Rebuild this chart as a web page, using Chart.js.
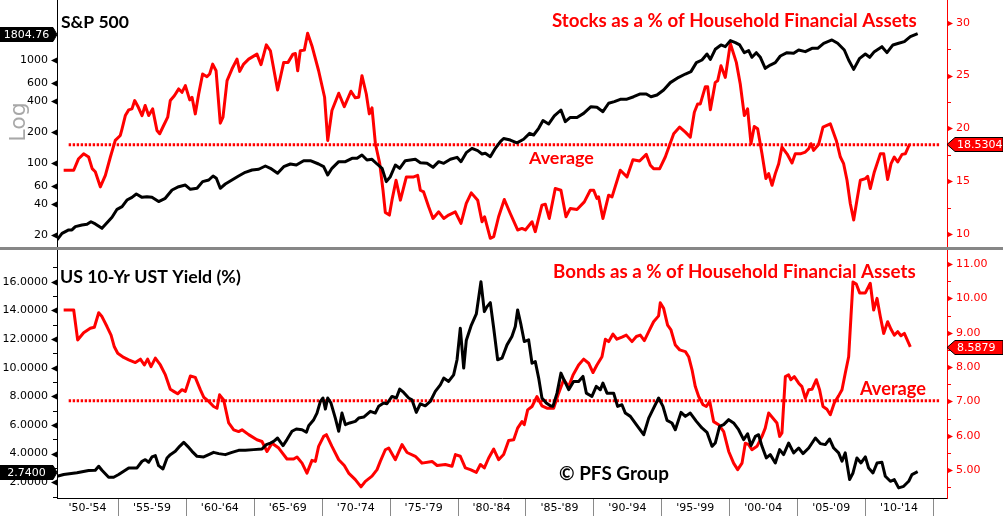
<!DOCTYPE html>
<html><head><meta charset="utf-8">
<script src="https://cdn.jsdelivr.net/npm/chart.js@4/dist/chart.umd.min.js"></script>
<style>
html,body{margin:0;padding:0;background:#fff;}
#wrap{position:relative;width:1003px;height:519px;overflow:hidden;background:#fff;}
#c1{position:absolute;left:0;top:0;width:1003px;height:247px;}
#c2{position:absolute;left:0;top:250px;width:1003px;height:269px;}
#sep{position:absolute;left:0;top:247px;width:1003px;height:3px;background:#878787;}
</style></head><body>
<div id="wrap">
<canvas id="c1" width="1003" height="247"></canvas>
<div id="sep"></div>
<canvas id="c2" width="1003" height="269"></canvas>
</div>
<script>
// ---------------- DATA ----------------
const periodStarts = [1950,1955,1960,1965,1970,1975,1980,1985,1990,1995,2000,2005,2010];
const periodLabels = ["'50-'54","'55-'59","'60-'64","'65-'69","'70-'74","'75-'79","'80-'84","'85-'89","'90-'94","'95-'99","'00-'04","'05-'09","'10-'14"];

const spxTicks = [20,40,60,100,200,400,600,1000];
const stockShareTicks = [10,15,20,25,30];
const stockShareMinor = [12.5,17.5,22.5,27.5];
const ustTicks = [2,4,6,8,10,12,14,16];
const ustMinor = [1,3,5,7,9,11,13,15,17];
const bondShareTicks = [5,6,7,8,9,10,11];
const bondShareMinor = [4.5,5.5,6.5,7.5,8.5,9.5,10.5];

const spxYears = [1950.51,1950.88,1951.37,1951.61,1951.86,1952.35,1952.72,1953.01,1953.33,1953.82,1954.19,1954.56,1954.93,1955.30,1955.66,1956.03,1956.35,1956.77,1957.13,1957.50,1957.99,1958.48,1958.98,1959.47,1959.96,1960.33,1960.82,1961.23,1961.68,1962.00,1962.24,1962.53,1962.90,1963.39,1963.88,1964.37,1964.87,1965.36,1965.85,1966.22,1966.75,1967.20,1967.69,1968.13,1968.67,1969.16,1969.77,1970.14,1970.44,1970.75,1971.25,1971.74,1972.23,1972.60,1972.96,1973.33,1973.70,1974.07,1974.44,1974.75,1975.05,1975.42,1975.74,1976.15,1976.89,1977.26,1977.75,1978.19,1978.61,1978.98,1979.47,1979.96,1980.25,1980.64,1981.06,1981.48,1981.80,1982.04,1982.41,1982.78,1983.15,1983.39,1983.88,1984.37,1984.86,1985.30,1985.60,1985.97,1986.29,1986.70,1987.12,1987.61,1987.93,1988.30,1988.79,1989.28,1989.82,1990.26,1990.70,1991.12,1991.54,1991.98,1992.42,1992.96,1993.45,1993.89,1994.24,1994.68,1995.17,1995.66,1996.28,1996.77,1997.18,1997.58,1997.99,1998.36,1998.61,1998.97,1999.39,1999.71,2000.08,2000.45,2000.77,2001.11,2001.43,2001.67,2001.99,2002.29,2002.65,2003.02,2003.39,2003.76,2004.25,2004.74,2005.11,2005.60,2006.09,2006.51,2006.95,2007.56,2007.98,2008.47,2008.79,2009.16,2009.60,2010.02,2010.34,2010.68,2011.24,2011.61,2012.05,2012.47,2012.89,2013.33,2013.87];
const spxValues = [17.9,20.7,22.4,22.4,24.1,25.0,25.4,26.9,25.6,23.2,26.3,29.7,35.5,37.7,43.7,46.4,50.0,46.4,47.1,46.4,42.2,45.4,54.7,58.9,61.1,55.5,56.8,65.9,68.4,74.8,71.0,56.8,62.5,68.4,74.8,81.2,85.5,86.9,93.5,88.8,79.4,92.1,97.8,95.6,105.3,105.3,97.8,92.1,76.5,88.8,103.0,103.0,111.0,111.0,119.6,106.9,108.6,97.8,88.8,65.9,73.6,95.6,88.8,105.3,108.6,100.7,99.3,90.7,103.0,99.3,108.6,113.5,103.0,126,138.8,131.8,122.3,124.1,115.1,138.8,161,173,167,157,170,194,187,217,258,239,286,327,252,277,277,303,352,347,315,380,394,415,415,440,468,468,440,457,512,603,679,731,771,943,1000,1144,1014,1270,1400,1347,1542,1473,1400,1178,1232,1062,1178,1062,830,893,943,1094,1178,1161,1250,1205,1298,1298,1452,1564,1452,1250,1000,811,1038,1144,1062,1205,1347,1178,1400,1452,1508,1686,1804.76];

const stockShareYears = [1951.0,1951.74,1952.1,1952.47,1952.84,1953.1,1953.33,1953.7,1954.07,1954.44,1954.8,1955.17,1955.3,1955.54,1955.79,1956.03,1956.23,1956.5,1956.77,1957.0,1957.26,1957.55,1957.87,1958.07,1958.36,1958.66,1958.85,1959.15,1959.47,1959.71,1959.96,1960.28,1960.45,1960.69,1960.94,1961.23,1961.55,1961.75,1961.97,1962.22,1962.53,1962.73,1963.03,1963.39,1963.76,1963.96,1964.25,1964.62,1965.23,1965.53,1965.92,1966.22,1966.75,1967.2,1967.52,1967.88,1968.06,1968.23,1968.42,1968.72,1968.96,1969.28,1969.77,1970.21,1970.44,1970.75,1971.25,1971.66,1972.15,1972.47,1972.72,1972.96,1973.28,1973.5,1973.7,1973.95,1974.27,1974.51,1974.68,1974.98,1975.17,1975.47,1975.79,1976.23,1976.77,1977.06,1977.26,1977.5,1977.87,1978.19,1978.61,1978.98,1979.34,1979.83,1980.25,1980.64,1981.01,1981.48,1981.8,1981.99,1982.41,1982.66,1983.02,1983.44,1983.88,1984.42,1984.74,1984.99,1985.48,1985.72,1986.21,1986.46,1986.75,1987.19,1987.61,1987.98,1988.3,1988.79,1989.33,1989.77,1990.02,1990.26,1990.38,1990.7,1991.12,1991.37,1991.98,1992.47,1992.91,1993.4,1993.89,1994.19,1994.43,1994.88,1995.29,1995.91,1996.35,1996.77,1997.13,1997.43,1997.67,1997.87,1998.24,1998.41,1998.61,1998.97,1999.15,1999.39,1999.71,2000.08,2000.52,2000.81,2001.11,2001.35,2001.6,2001.84,2002.09,2002.41,2002.7,2002.9,2003.15,2003.39,2003.64,2003.88,2004.25,2004.62,2004.86,2005.23,2005.6,2005.85,2006.02,2006.21,2006.58,2006.9,2007.44,2007.88,2008.18,2008.42,2008.67,2008.91,2009.16,2009.4,2009.65,2010.02,2010.19,2010.38,2010.68,2011.12,2011.37,2011.66,2011.91,2012.15,2012.4,2012.72,2012.96,2013.28];
const stockShareValues = [16.05,16.05,17.14,17.6,17.3,16.2,15.9,14.48,15.57,17.3,18.87,19.34,19.97,21.22,21.76,21.85,22.64,22.0,21.22,22.17,21.22,21.85,19.81,19.5,20.28,21.07,22.64,23.1,23.74,23.42,24.05,22.7,22.95,21.38,23.26,25.15,24.9,25.15,26.09,25.46,20.5,21.07,24.52,25.62,26.56,25.4,26.09,26.56,27.03,26.03,27.91,27.35,23.64,26.25,26.25,27.03,27.09,25.46,27.35,27.41,29.0,27.81,25.46,22.95,18.87,21.7,23.33,22.07,23.52,22.9,22.95,24.99,23.26,21.38,21.95,18.56,16.67,14.16,12.06,11.81,13.22,15.1,13.22,15.42,15.42,15.57,14.16,14.0,12.59,11.49,12.12,11.49,11.81,12.12,11.02,12.91,13.91,13.22,11.18,11.65,9.61,9.77,11.65,13.28,11.96,10.4,10.55,10.4,11.18,10.24,12.75,12.84,11.49,14.32,14.16,11.65,12.44,12.34,13.06,14.16,14.16,13.38,13.53,11.49,13.69,13.53,16.05,15.42,17.05,16.92,17.55,16.52,16.2,16.2,17.3,19.5,20.13,19.65,19.18,21.54,22.32,22.32,23.95,23.95,21.76,24.36,24.52,25.93,24.83,28.04,26.25,24.21,21.22,21.85,18.56,20.19,19.97,17.6,15.26,15.73,14.63,15.73,16.67,18.24,17.6,16.74,17.6,17.6,17.77,18.09,18.56,17.93,18.49,20.13,20.44,18.87,17.3,16.67,15.1,12.91,11.34,13.22,15.1,15.26,15.48,14.32,15.89,17.6,17.6,15.17,16.67,17.3,16.83,17.55,17.6,18.5304];
const stockShareAverage = 18.45;

const ustYears = [1950.51,1951.0,1951.98,1952.84,1953.33,1953.58,1953.82,1954.31,1954.68,1955.05,1955.79,1956.4,1956.77,1957.01,1957.26,1957.5,1957.75,1957.99,1958.31,1958.61,1958.85,1959.22,1959.54,1959.84,1960.13,1960.45,1960.82,1961.31,1961.68,1962.04,1962.41,1962.9,1963.39,1963.88,1964.37,1964.99,1965.6,1965.92,1966.22,1966.46,1966.75,1967.15,1967.44,1967.81,1968.13,1968.55,1968.87,1969.04,1969.41,1969.65,1969.9,1970.09,1970.27,1970.44,1970.68,1971.0,1971.25,1971.49,1971.74,1972.06,1972.47,1972.72,1973.09,1973.58,1973.94,1974.19,1974.56,1974.8,1975.17,1975.49,1975.74,1976.03,1976.4,1976.64,1976.96,1977.26,1977.62,1977.99,1978.36,1978.73,1978.98,1979.34,1979.71,1979.96,1980.2,1980.45,1980.64,1980.99,1981.38,1981.72,1981.97,1982.17,1982.41,1982.66,1982.95,1983.27,1983.64,1984.0,1984.25,1984.42,1984.67,1984.91,1985.23,1985.48,1985.72,1985.97,1986.21,1986.53,1986.83,1987.02,1987.32,1987.61,1987.81,1988.18,1988.54,1988.91,1989.23,1989.48,1989.89,1990.21,1990.51,1990.7,1991.0,1991.49,1991.78,1992.1,1992.35,1992.72,1993.16,1993.7,1994.07,1994.43,1994.8,1995.12,1995.42,1995.78,1996.03,1996.45,1996.77,1997.13,1997.58,1997.99,1998.36,1998.73,1998.97,1999.29,1999.59,1999.96,2000.32,2000.69,2001.06,2001.35,2001.6,2001.92,2002.16,2002.41,2002.73,2003.02,2003.39,2003.71,2004.0,2004.37,2004.74,2005.11,2005.43,2005.85,2006.34,2006.7,2007.07,2007.39,2007.69,2008.05,2008.3,2008.54,2008.86,2009.11,2009.4,2009.7,2010.02,2010.26,2010.58,2010.88,2011.24,2011.49,2011.86,2012.15,2012.47,2012.84,2013.21,2013.45,2013.87];
const ustValues = [2.42,2.54,2.66,2.82,2.84,3.12,2.84,2.35,2.35,2.54,3.0,3.0,3.47,3.58,3.40,3.77,3.86,3.16,2.93,3.70,3.93,4.16,4.51,4.79,4.51,4.16,3.81,3.77,3.93,4.09,4.00,3.93,4.09,4.23,4.23,4.28,4.32,4.63,4.74,4.86,5.09,4.56,4.98,5.56,5.72,5.67,5.49,5.95,6.37,6.83,7.65,7.88,7.11,7.88,7.53,6.48,5.56,6.83,6.02,6.14,6.25,6.48,6.55,6.95,6.83,7.30,7.53,7.48,7.99,7.88,8.50,8.27,7.88,7.76,6.88,7.48,7.34,7.64,8.34,8.80,9.27,9.04,9.50,10.55,12.75,9.97,11.89,12.91,13.75,16.0,13.91,14.26,14.54,12.75,10.55,10.66,11.59,12.17,12.87,14.03,12.98,11.82,11.94,10.31,10.43,9.27,7.88,7.53,7.34,7.30,8.22,9.62,9.20,8.46,9.04,9.04,9.39,8.22,7.99,8.69,8.46,8.92,8.22,8.22,7.30,7.41,6.83,6.60,6.02,5.32,6.48,7.18,7.88,7.30,6.32,6.14,5.67,6.88,6.60,6.83,6.25,5.79,5.49,4.51,4.74,5.90,6.02,6.37,6.14,5.67,4.98,5.39,4.56,5.21,5.32,4.51,3.70,3.93,3.35,4.28,3.93,4.74,4.05,4.39,4.00,4.39,5.09,4.70,4.63,5.02,4.39,4.05,3.47,4.05,2.19,2.65,3.70,3.35,3.77,3.00,2.65,3.35,3.40,2.42,2.07,2.19,1.61,1.72,2.07,2.54,2.74];

const bondShareYears = [1951.0,1951.74,1952.03,1952.47,1952.96,1953.26,1953.58,1953.82,1954.19,1954.49,1954.73,1954.98,1955.42,1955.79,1956.28,1956.65,1956.94,1957.18,1957.43,1957.75,1958.12,1958.49,1958.85,1959.1,1959.39,1959.71,1959.96,1960.33,1960.69,1961.06,1961.31,1961.68,1962.04,1962.29,1962.48,1962.78,1963.15,1963.52,1963.88,1964.13,1964.62,1965.23,1965.6,1965.97,1966.34,1966.83,1967.44,1967.93,1968.18,1968.55,1968.91,1969.28,1969.53,1969.77,1970.14,1970.34,1970.75,1971.25,1971.66,1971.98,1972.47,1972.89,1973.21,1973.7,1974.07,1974.31,1974.68,1974.93,1975.42,1975.91,1976.28,1976.89,1977.38,1978.12,1978.49,1979.1,1979.59,1979.84,1980.2,1980.57,1980.94,1981.38,1981.68,1981.97,1982.29,1982.66,1983.02,1983.39,1983.76,1984.13,1984.42,1984.74,1984.91,1985.16,1985.48,1985.84,1986.21,1986.58,1987.07,1987.44,1987.81,1988.18,1988.5,1988.91,1989.28,1989.65,1989.97,1990.26,1990.63,1990.88,1991.12,1991.44,1991.73,1992.1,1992.42,1992.84,1993.16,1993.45,1993.75,1994.07,1994.43,1994.8,1994.92,1995.17,1995.46,1995.71,1996.03,1996.35,1996.77,1997.01,1997.26,1997.5,1997.75,1998.07,1998.31,1998.56,1998.85,1999.22,1999.59,1999.96,2000.32,2000.62,2000.94,2001.18,2001.43,2001.67,2002.04,2002.41,2002.65,2002.9,2003.22,2003.51,2003.71,2003.88,2004.13,2004.37,2004.54,2004.79,2005.11,2005.35,2005.6,2005.85,2006.09,2006.41,2006.65,2006.9,2007.19,2007.44,2007.73,2008.05,2008.3,2008.54,2008.79,2008.96,2009.11,2009.35,2009.6,2010.02,2010.38,2010.63,2010.88,2011.12,2011.37,2011.66,2011.91,2012.15,2012.4,2012.64,2012.89,2013.33];
const bondShareValues = [9.66,9.66,8.79,9.0,9.13,9.16,9.58,9.47,9.18,8.93,8.59,8.40,8.28,8.21,8.13,8.23,8.06,8.23,8.01,8.26,8.06,7.77,7.35,7.29,7.22,7.34,7.29,7.74,7.70,7.34,7.12,7.00,6.85,6.80,7.19,7.04,6.37,6.17,6.12,6.17,6.03,5.88,5.83,5.54,5.78,5.64,5.32,5.32,5.38,5.20,4.91,5.28,5.25,5.69,5.98,6.03,5.69,5.30,5.13,4.91,4.72,4.51,4.67,4.82,5.01,5.25,5.59,5.64,5.30,5.74,5.51,5.40,5.20,5.25,5.13,5.16,5.11,5.45,5.40,5.06,5.01,4.93,5.16,5.06,5.35,5.61,5.30,5.45,5.86,5.88,6.22,6.41,6.32,6.75,6.85,7.14,6.87,6.80,6.80,7.24,7.63,7.43,7.77,8.06,8.23,8.11,7.84,8.06,8.30,8.81,8.74,8.96,8.81,8.87,8.93,8.74,8.89,8.93,8.77,9.03,9.32,9.49,9.87,9.71,9.22,9.08,8.64,8.50,8.45,8.30,7.92,7.43,7.14,6.90,6.85,7.00,6.41,6.32,6.12,5.54,5.20,5.01,5.20,5.78,5.74,5.59,5.69,5.98,6.22,6.66,6.51,6.37,5.98,6.08,7.72,7.77,7.63,7.72,7.53,7.43,7.09,7.34,7.35,7.63,7.34,6.85,6.77,6.61,6.95,7.16,7.34,7.82,8.30,9.47,10.48,10.42,10.16,10.16,10.44,9.66,10.00,9.47,8.98,9.32,9.10,8.93,9.03,8.91,8.98,8.5879];
const bondShareAverage = 7.02;
const averageSpan = [1951.37, 2015.5];

// ---------------- LAYOUT / STYLE ----------------
const X_MIN = 1950.51, X_MAX = 2016.03;
const RED = '#ff0000', BLACK = '#000000';
const TICK_FONT = {family:'DejaVu Sans', size:11};

const pts = (xs, ys) => xs.map((x,i)=>({x, y: ys[i]}));
const flat = (v) => averageSpan.map(x=>({x, y:v}));

function fitFont(ctx, text, target, weight, family){
  ctx.font = `${weight} 20px ${family}`;
  const w = ctx.measureText(text).width;
  return 20 * target / w;
}

function decor(cfg){
  return {
    id: 'decor',
    afterDraw(chart){
      const ctx = chart.ctx, ca = chart.chartArea;
      ctx.save();
      cfg.axes.forEach(a=>{
        const sc = chart.scales[a.id];
        const X = a.side==='left' ? ca.left : ca.right;
        const d = a.side==='left' ? -1 : 1;
        ctx.fillStyle = a.color; ctx.strokeStyle = a.color; ctx.lineWidth = 1;
        sc.ticks.forEach(t=>{
          const y = Math.round(sc.getPixelForValue(t.value)) + 0.5;
          ctx.beginPath(); ctx.moveTo(X, y-3); ctx.lineTo(X+d*6, y); ctx.lineTo(X, y+3); ctx.closePath(); ctx.fill();
        });
        (a.minor||[]).forEach(v=>{
          const y = Math.round(sc.getPixelForValue(v)) + 0.5;
          if (y < ca.top || y > ca.bottom) return;
          ctx.beginPath(); ctx.moveTo(X, y); ctx.lineTo(X+d*4, y); ctx.stroke();
        });
      });
      if (cfg.separators){
        const sx = chart.scales.x;
        ctx.strokeStyle = '#8a8a8a'; ctx.lineWidth = 1;
        cfg.separators.forEach(v=>{
          if (v <= X_MIN || v >= X_MAX) return;
          const x = Math.round(sx.getPixelForValue(v)) + 0.5;
          ctx.beginPath(); ctx.moveTo(x, ca.bottom+1); ctx.lineTo(x, ca.bottom+18); ctx.stroke();
        });
      }
      (cfg.texts||[]).forEach(t=>{
        const fam = t.family || 'Lato';
        const size = fitFont(ctx, t.text, t.w, t.weight||'bold', fam);
        ctx.font = `${t.weight||'bold'} ${size}px ${fam}`;
        ctx.fillStyle = t.color; ctx.textAlign = 'left'; ctx.textBaseline = 'alphabetic';
        ctx.fillText(t.text, t.x, t.y);
      });
      if (cfg.rot){
        const r = cfg.rot;
        ctx.save(); ctx.translate(r.x, r.y); ctx.rotate(-Math.PI/2);
        ctx.font = r.font; ctx.fillStyle = r.color; ctx.textAlign='center'; ctx.textBaseline='middle';
        ctx.fillText(r.text, 0, 0); ctx.restore();
      }
      (cfg.callouts||[]).forEach(c=>{
        const sc = chart.scales[c.axis];
        const y = Math.round(sc.getPixelForValue(c.value)) + 0.5;
        const h = 7;
        ctx.beginPath();
        if (c.side==='left'){
          const tip = ca.left, bx = tip-4;
          ctx.moveTo(0, y-h); ctx.lineTo(bx, y-h); ctx.lineTo(tip, y); ctx.lineTo(bx, y+h); ctx.lineTo(0, y+h);
        } else {
          const tip = ca.right, bx = tip+8;
          ctx.moveTo(chart.width, y-h); ctx.lineTo(bx, y-h); ctx.lineTo(tip, y); ctx.lineTo(bx, y+h); ctx.lineTo(chart.width, y+h);
        }
        ctx.closePath();
        ctx.fillStyle = c.bg; ctx.fill();
        ctx.strokeStyle = '#000'; ctx.lineWidth = 1; ctx.stroke();
        ctx.font = '11px DejaVu Sans'; ctx.fillStyle = '#fff'; ctx.textBaseline='middle';
        if (c.side==='left'){ ctx.textAlign='center'; ctx.fillText(c.text, (ca.left-4)/2, y+0.5); }
        else { ctx.textAlign='left'; ctx.fillText(c.text, ca.right+10, y+0.5); }
      });
      ctx.restore();
    }
  };
}

function lineDs(data, color, axis, extra){
  return Object.assign({data, borderColor: color, backgroundColor: color, borderWidth: 3,
    pointRadius: 0, tension: 0, yAxisID: axis, fill: false, borderJoinStyle:'round'}, extra||{});
}
const dotted = {borderDash:[2.4,1.6], borderWidth:3, borderJoinStyle:'miter', borderCapStyle:'butt'};

function yAxis(pos, color, extra){
  return Object.assign({
    position: pos,
    grid: {display:false, drawTicks:false},
    border: {display:true, color, width: 1},
    afterFit: s => { s.width = pos==='left' ? 57 : 56; s.paddingTop = 0; s.paddingBottom = 0; }
  }, extra);
}

// ---------------- TOP CHART ----------------
new Chart(document.getElementById('c1'), {
  type: 'line',
  data: { datasets: [
    lineDs(pts(spxYears, spxValues), BLACK, 'y'),
    lineDs(pts(stockShareYears, stockShareValues), RED, 'y2'),
    lineDs(flat(stockShareAverage), RED, 'y2', dotted)
  ]},
  options: {
    responsive:false, animation:false, devicePixelRatio:1,
    layout:{padding:0},
    plugins:{legend:{display:false}, tooltip:{enabled:false}},
    scales: {
      x: {type:'linear', min:X_MIN, max:X_MAX, display:false},
      y: yAxis('left', BLACK, {type:'logarithmic', min:15.29, max:3823,
            afterBuildTicks: s => { s.ticks = spxTicks.map(v=>({value:v})); },
            ticks:{color:BLACK, font:TICK_FONT, padding:9, autoSkip:false, callback: v => String(v)}}),
      y2: yAxis('right', RED, {type:'linear', min:8.79, max:32.15,
            afterBuildTicks: s => { s.ticks = stockShareTicks.map(v=>({value:v})); },
            ticks:{color:RED, font:TICK_FONT, padding:9, autoSkip:false, callback: v => String(v)}})
    }
  },
  plugins: [decor({
    axes:[{id:'y', side:'left', color:BLACK}, {id:'y2', side:'right', color:RED, minor:stockShareMinor}],
    texts:[
      {text:'S&P 500', x:61, y:28, w:68, color:BLACK},
      {text:'Stocks as a % of Household Financial Assets', x:552, y:27, w:365, color:RED},
      {text:'Average', x:529, y:164, w:65, color:RED}
    ],
    rot:{text:'Log', x:19, y:122, font:'22px DejaVu Sans', color:'#a8a8a8'},
    callouts:[
      {axis:'y', side:'left', value: spxValues[spxValues.length-1], text: spxValues[spxValues.length-1].toFixed(2), bg:BLACK},
      {axis:'y2', side:'right', value: stockShareValues[stockShareValues.length-1], text: stockShareValues[stockShareValues.length-1].toFixed(4), bg:RED}
    ]
  })]
});

// ---------------- BOTTOM CHART ----------------
const xTickCenters = periodStarts.map(s => (Math.max(s, X_MIN) + Math.min(s+5, X_MAX)) / 2);
new Chart(document.getElementById('c2'), {
  type: 'line',
  data: { datasets: [
    lineDs(pts(ustYears, ustValues), BLACK, 'y'),
    lineDs(pts(bondShareYears, bondShareValues), RED, 'y2'),
    lineDs(flat(bondShareAverage), RED, 'y2', dotted)
  ]},
  options: {
    responsive:false, animation:false, devicePixelRatio:1,
    layout:{padding:0},
    plugins:{legend:{display:false}, tooltip:{enabled:false}},
    scales: {
      x: {type:'linear', min:X_MIN, max:X_MAX, position:'bottom',
          grid:{display:false, drawTicks:false},
          border:{display:true, color:BLACK, width:1},
          afterBuildTicks: s => { s.ticks = xTickCenters.map(v=>({value:v})); },
          afterFit: s => { s.height = 21; s.paddingLeft = 0; s.paddingRight = 0; },
          ticks:{color:BLACK, font:TICK_FONT, padding:4, autoSkip:false, maxRotation:0,
                 callback: (v, i) => periodLabels[i]}},
      y: yAxis('left', BLACK, {type:'linear', min:0.904, max:18.21,
            afterBuildTicks: s => { s.ticks = ustTicks.map(v=>({value:v})); },
            ticks:{color:BLACK, font:TICK_FONT, padding:9, autoSkip:false, callback: v => Number(v).toFixed(4)}}),
      y2: yAxis('right', RED, {type:'linear', min:4.184, max:11.41,
            afterBuildTicks: s => { s.ticks = bondShareTicks.map(v=>({value:v})); },
            ticks:{color:RED, font:TICK_FONT, padding:9, autoSkip:false, callback: v => Number(v).toFixed(2)}})
    }
  },
  plugins: [decor({
    axes:[{id:'y', side:'left', color:BLACK, minor:ustMinor}, {id:'y2', side:'right', color:RED, minor:bondShareMinor}],
    separators: periodStarts.concat([2015]),
    texts:[
      {text:'US 10-Yr UST Yield (%)', x:60, y:33, w:181, color:BLACK},
      {text:'Bonds as a % of Household Financial Assets', x:553, y:28, w:363, color:RED},
      {text:'Average', x:860, y:145, w:66, color:RED},
      {text:'\u00A9 PFS Group', x:559, y:230, w:110, color:BLACK}
    ],
    callouts:[
      {axis:'y', side:'left', value: ustValues[ustValues.length-1], text: ustValues[ustValues.length-1].toFixed(4), bg:BLACK},
      {axis:'y2', side:'right', value: bondShareValues[bondShareValues.length-1], text: bondShareValues[bondShareValues.length-1].toFixed(4), bg:RED}
    ]
  })]
});
</script>
</body></html>
